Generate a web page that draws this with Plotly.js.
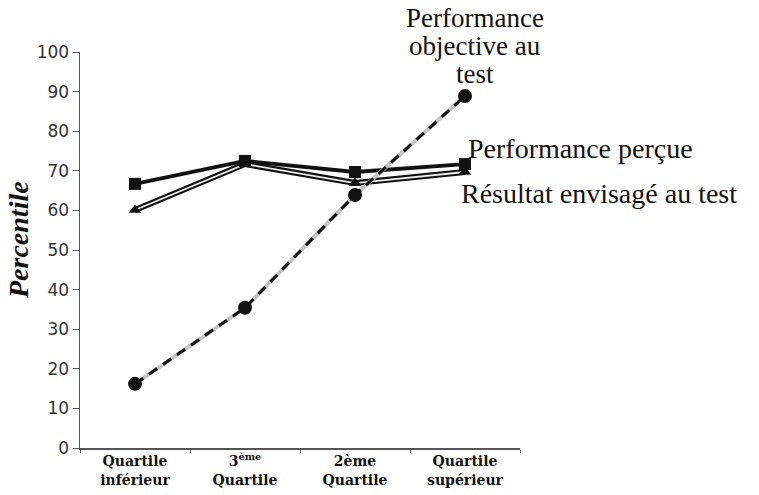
<!DOCTYPE html>
<html>
<head>
<meta charset="utf-8">
<script src="https://cdn.plot.ly/plotly-3.0.1.min.js"></script>
<style>html,body{margin:0;padding:0;background:#fff;}</style>
</head>
<body>
<div id="chart" style="width:759px;height:495px;"></div>
<script>
const categories = ["Quartile<br>inférieur", "3<sup>ème</sup><br>Quartile", "2ème<br>Quartile", "Quartile<br>supérieur"];
const perfObjective = [16.2, 35.4, 63.9, 88.9];
const perfPercue = [66.7, 72.5, 69.7, 71.7];
const resultatEnvisage = [60.1, 71.7, 66.9, 69.7];
const seriesNames = ["Performance<br>objective au<br>test", "Performance perçue", "Résultat envisagé au test"];
const yTicks = [0, 10, 20, 30, 40, 50, 60, 70, 80, 90, 100];
const yTitle = "Percentile";

const W = 440, H = 396, L = 80, T = 52;
const px = x => (x - L) / W;
const py = y => (T + H - y) / H;

const traces = [
  {x: categories, y: resultatEnvisage, mode: 'lines', line: {color: '#111', width: 6}, hoverinfo: 'skip'},
  {x: categories, y: resultatEnvisage, mode: 'lines+markers', line: {color: '#eeeeee', width: 1.8},
   marker: {symbol: 'triangle-up', size: 11, color: '#111'}, name: seriesNames[2]},
  {x: categories, y: perfPercue, mode: 'lines+markers', line: {color: '#111', width: 3.8},
   marker: {symbol: 'square', size: 12, color: '#111'}, name: seriesNames[1]},
  {x: categories, y: perfObjective, mode: 'lines', line: {color: '#c4c4c4', width: 4}, hoverinfo: 'skip'},
  {x: categories, y: perfObjective, mode: 'lines+markers', line: {color: '#111', width: 3, dash: '10px,7px'},
   marker: {symbol: 'circle', size: 14, color: '#111'}, name: seriesNames[0]}
];

const serif = "'Liberation Serif', 'Times New Roman', serif";
const topLines = seriesNames[0].split('<br>');
const topY = [18, 46, 74];
const annotations = topLines.map((t, i) => ({
  xref: 'paper', yref: 'paper', x: px(475), y: py(topY[i]), xanchor: 'center', yanchor: 'middle',
  text: t, showarrow: false, font: {family: serif, size: 27, color: '#111'}
}));
annotations.push(
  {xref: 'paper', yref: 'paper', x: px(466), y: py(148), xanchor: 'left', yanchor: 'middle',
   text: seriesNames[1], showarrow: false, font: {family: serif, size: 28, color: '#111'}},
  {xref: 'paper', yref: 'paper', x: px(459), y: py(193), xanchor: 'left', yanchor: 'middle',
   text: seriesNames[2], showarrow: false, font: {family: serif, size: 28, color: '#111'}},
  {xref: 'paper', yref: 'paper', x: px(19), y: py(240), xanchor: 'center', yanchor: 'middle',
   textangle: -90, text: '<b><i>' + yTitle + '</i></b>', showarrow: false,
   font: {family: serif, size: 28, color: '#111'}}
);

const layout = {
  width: 759, height: 495,
  margin: {l: 80, r: 239, t: 52, b: 47},
  showlegend: false,
  paper_bgcolor: '#fff', plot_bgcolor: '#fff',
  xaxis: {
    type: 'category', range: [-0.5, 3.5],
    showline: true, linecolor: '#555', linewidth: 1.5,
    ticks: 'outside', tickson: 'boundaries', ticklen: 3, tickcolor: '#555',
    showgrid: false, zeroline: false,
    tickfont: {family: "'DejaVu Serif', serif", size: 14, color: '#111', weight: 'bold'}
  },
  yaxis: {
    range: [0, 100], tickvals: yTicks, ticktext: yTicks.map(String),
    showline: true, linecolor: '#555', linewidth: 1.5,
    ticks: 'outside', ticklen: 6, tickcolor: '#555',
    showgrid: false, zeroline: false,
    tickfont: {family: 'DejaVu Sans, sans-serif', size: 17, color: '#333'}
  },
  annotations: annotations
};

Plotly.newPlot('chart', traces, layout, {staticPlot: true});
</script>
</body>
</html>
